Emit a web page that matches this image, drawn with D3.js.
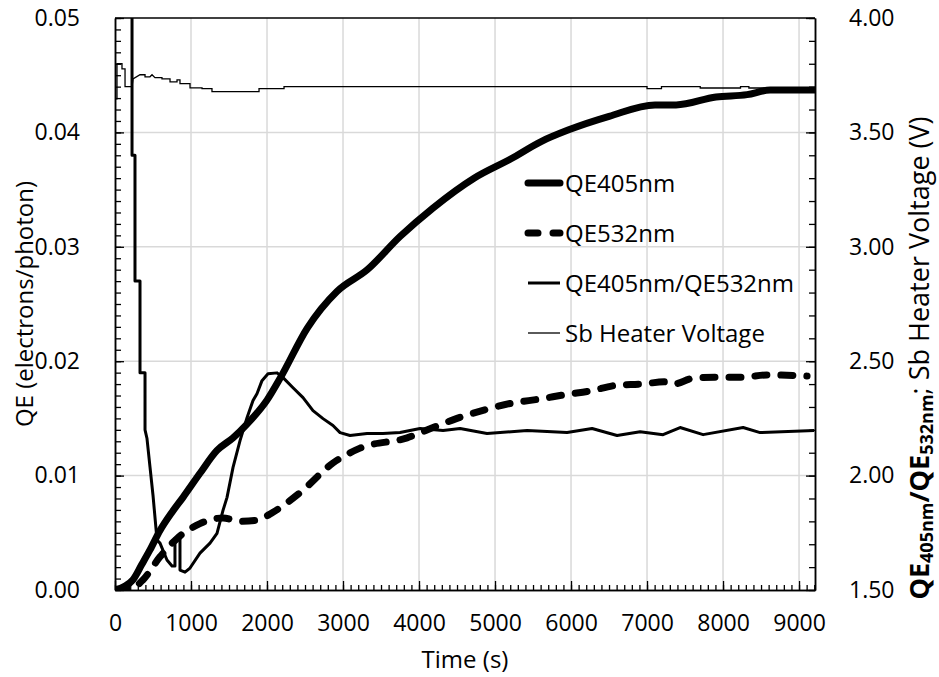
<!DOCTYPE html>
<html>
<head>
<meta charset="utf-8">
<script src="https://cdn.jsdelivr.net/npm/d3@7"></script>
<style>
  body { margin: 0; background: #fff; }
  svg text { font-family: "Open Sans", sans-serif; fill: #000; }
</style>
</head>
<body>
<div id="chart"></div>
<script>
// time (s) vs QE (electrons/photon), left axis
const qe405 = [
  [0, 0], [120, 0.0003], [237, 0.0009], [350, 0.0022], [460, 0.0035], [592, 0.0052],
  [750, 0.0068], [895, 0.0081], [1118, 0.0102], [1342, 0.0122], [1553, 0.0133],
  [1737, 0.0145], [2000, 0.0166], [2180, 0.0186], [2530, 0.0229], [2920, 0.0261],
  [3320, 0.0280], [3750, 0.0309], [4185, 0.0334], [4724, 0.0360], [5211, 0.0377],
  [5606, 0.0392], [5961, 0.0402], [6501, 0.0414], [7105, 0.0424], [7382, 0.0424],
  [7908, 0.0431], [8316, 0.0433], [8620, 0.0437], [9200, 0.0437]
];
const qe532 = [
  [0, 0], [237, 0.0002], [370, 0.0009], [592, 0.0029], [816, 0.0045], [1118, 0.0058],
  [1421, 0.0063], [1645, 0.0060], [1868, 0.0061], [2079, 0.0068], [2434, 0.0085],
  [2868, 0.0111], [3224, 0.0124], [3843, 0.0133], [4185, 0.0142], [4500, 0.0150],
  [4842, 0.0157], [5198, 0.0163], [5593, 0.0167], [5948, 0.0171], [6251, 0.0174],
  [6606, 0.0179], [6909, 0.0180], [7264, 0.0182], [7343, 0.0180], [7606, 0.0185],
  [7922, 0.0186], [8264, 0.0186], [8580, 0.0188], [9106, 0.0187]
];
// right axis: ratio and heater voltage
const ratio = [
  [224, 5.0], [224, 3.40], [263, 3.40], [263, 2.85], [329, 2.85], [329, 2.45],
  [395, 2.45], [395, 2.20], [421, 2.162], [461, 2.036], [500, 1.914], [553, 1.718],
  [592, 1.705], [684, 1.631], [750, 1.605], [789, 1.605], [789, 1.726], [855, 1.726],
  [855, 1.587], [921, 1.578], [987, 1.596], [1118, 1.661], [1250, 1.705], [1342, 1.748],
  [1421, 1.848], [1474, 1.905], [1553, 2.036], [1645, 2.153], [1737, 2.253], [1816, 2.328],
  [1868, 2.358], [1934, 2.415], [2013, 2.445], [2132, 2.449], [2211, 2.428], [2342, 2.384],
  [2474, 2.341], [2605, 2.284], [2737, 2.249], [2868, 2.219], [2961, 2.188], [3092, 2.175],
  [3316, 2.184], [3526, 2.184], [3750, 2.188], [4014, 2.206], [4316, 2.197], [4540, 2.206],
  [4895, 2.184], [5422, 2.197], [5948, 2.188], [6277, 2.206], [6606, 2.175], [6909, 2.192],
  [7211, 2.179], [7435, 2.21], [7738, 2.179], [8264, 2.21], [8488, 2.188], [9200, 2.197]
];
const heater = [
  [0, 3.647], [26, 3.647], [26, 3.80], [92, 3.80], [92, 3.778], [132, 3.778], [132, 3.70],
  [224, 3.70], [237, 3.734], [329, 3.752], [395, 3.752], [395, 3.743], [460, 3.743],
  [487, 3.752], [526, 3.739], [618, 3.739], [618, 3.734], [724, 3.734], [724, 3.721],
  [816, 3.721], [816, 3.73], [855, 3.73], [855, 3.713], [987, 3.713], [987, 3.695],
  [1145, 3.695], [1145, 3.691], [1276, 3.691], [1276, 3.678], [1895, 3.678], [1895, 3.691],
  [2224, 3.691], [2224, 3.70], [7000, 3.70], [7000, 3.691], [7190, 3.691], [7190, 3.70],
  [7700, 3.70], [7700, 3.694], [8230, 3.694], [8230, 3.70], [8340, 3.70], [8340, 3.694],
  [8580, 3.694], [8580, 3.686], [9200, 3.686]
];

const xTicks = [0, 1000, 2000, 3000, 4000, 5000, 6000, 7000, 8000, 9000];
const yLeftTicks = [0, 0.01, 0.02, 0.03, 0.04, 0.05];
const yRightTicks = [1.5, 2.0, 2.5, 3.0, 3.5, 4.0];
const legendNames = ['QE405nm', 'QE532nm', 'QE405nm/QE532nm', 'Sb Heater Voltage'];

const W = 939, H = 677;
const plot = { left: 115, right: 815, top: 18, bottom: 590 };

const svg = d3.select('#chart').append('svg')
  .attr('width', W).attr('height', H);

const x = d3.scaleLinear().domain([0, 9210]).range([plot.left, plot.right]);
const yL = d3.scaleLinear().domain([0, 0.05]).range([plot.bottom, plot.top]);
const yR = d3.scaleLinear().domain([1.5, 4.0]).range([plot.bottom, plot.top]);

// gridlines
const grid = svg.append('g').attr('stroke', '#d9d9d9').attr('stroke-width', 1.5);
grid.selectAll('.gx').data(xTicks.slice(1)).join('line')
  .attr('x1', d => x(d)).attr('x2', d => x(d))
  .attr('y1', plot.top).attr('y2', plot.bottom);
grid.selectAll('.gy').data(yLeftTicks.slice(1, -1)).join('line')
  .attr('x1', plot.left).attr('x2', plot.right)
  .attr('y1', d => yL(d)).attr('y2', d => yL(d));

svg.append('clipPath').attr('id', 'clip').append('rect')
  .attr('x', plot.left).attr('y', plot.top)
  .attr('width', plot.right - plot.left).attr('height', plot.bottom - plot.top);

const lines = svg.append('g').attr('clip-path', 'url(#clip)').attr('fill', 'none').attr('stroke', '#000');

const lineL = d3.line().x(d => x(d[0])).y(d => yL(d[1])).curve(d3.curveMonotoneX);
const lineR = d3.line().x(d => x(d[0])).y(d => yR(d[1]));

lines.append('path').attr('d', lineR(heater)).attr('stroke-width', 1.3);
lines.append('path').attr('d', lineR(ratio)).attr('stroke-width', 3).attr('stroke-linejoin', 'round');
lines.append('path').attr('d', lineL(qe532)).attr('stroke-width', 7)
  .attr('stroke-dasharray', '12,14').attr('stroke-linecap', 'round');
lines.append('path').attr('d', lineL(qe405)).attr('stroke-width', 7).attr('stroke-linecap', 'round');

// axes
function styleAxis(g) {
  g.select('.domain').attr('stroke', '#000').attr('stroke-width', 1.5);
  g.selectAll('line').attr('stroke', '#000').attr('stroke-width', 1.3);
  g.selectAll('text').attr('font-size', '23px').attr('font-family', '"Open Sans", sans-serif');
}

const minorX = d3.range(0, 9201, 100);
svg.append('g').attr('transform', `translate(0,${plot.bottom})`)
  .call(d3.axisBottom(x).tickValues(minorX).tickSize(-5).tickSizeOuter(0).tickFormat(''))
  .call(styleAxis);
svg.append('g').attr('transform', `translate(0,${plot.bottom})`)
  .call(d3.axisBottom(x).tickValues(xTicks).tickSize(-9).tickSizeOuter(0).tickPadding(25)
    .tickFormat(d3.format('d')))
  .call(styleAxis);

const minorL = d3.range(0, 0.0501, 0.001);
svg.append('g').attr('transform', `translate(${plot.left},0)`)
  .call(d3.axisLeft(yL).tickValues(minorL).tickSize(-6).tickSizeOuter(0).tickFormat(''))
  .call(styleAxis);
svg.append('g').attr('transform', `translate(${plot.left},0)`)
  .call(d3.axisLeft(yL).tickValues(yLeftTicks).tickSize(-9).tickSizeOuter(0).tickPadding(35)
    .tickFormat(d3.format('.2f')))
  .call(styleAxis);

const minorR = d3.range(1.5, 4.001, 0.1);
svg.append('g').attr('transform', `translate(${plot.right},0)`)
  .call(d3.axisRight(yR).tickValues(minorR).tickSize(-6).tickSizeOuter(0).tickFormat(''))
  .call(styleAxis);
svg.append('g').attr('transform', `translate(${plot.right},0)`)
  .call(d3.axisRight(yR).tickValues(yRightTicks).tickSize(-9).tickSizeOuter(0).tickPadding(34)
    .tickFormat(d3.format('.2f')))
  .call(styleAxis);

// top frame
svg.append('line').attr('x1', plot.left).attr('x2', plot.right)
  .attr('y1', plot.top).attr('y2', plot.top).attr('stroke', '#000').attr('stroke-width', 1.5);

// axis titles
svg.append('text').attr('x', (plot.left + plot.right) / 2).attr('y', 668)
  .attr('text-anchor', 'middle').attr('font-size', '24px').text('Time (s)');

svg.append('text').attr('transform', `translate(33,${(plot.top + plot.bottom) / 2}) rotate(-90)`)
  .attr('text-anchor', 'middle').attr('font-size', '24px').text('QE (electrons/photon)');

const rt = svg.append('text')
  .attr('transform', 'translate(929,358) rotate(-90)')
  .attr('text-anchor', 'middle').attr('font-size', '27px');
rt.append('tspan').attr('font-weight', 'bold').text('QE');
rt.append('tspan').attr('font-weight', 'bold').attr('font-size', '18px').attr('dy', 4).text('405nm');
rt.append('tspan').attr('font-weight', 'bold').attr('dy', -4).text('/QE');
rt.append('tspan').attr('font-weight', 'bold').attr('font-size', '18px').attr('dy', 4).text('532nm');
rt.append('tspan').attr('dy', -4).text('; Sb Heater Voltage (V)');

// legend
const legendStyles = [
  { w: 7, dash: null },
  { w: 7, dash: '10,15' },
  { w: 3, dash: null },
  { w: 1.3, dash: null }
];
const legend = svg.append('g');
const rows = legend.selectAll('g').data(legendNames).join('g')
  .attr('transform', (d, i) => `translate(528,${183 + i * 50})`);
rows.append('line').attr('x1', 0).attr('x2', 32).attr('y1', 0).attr('y2', 0)
  .attr('stroke', '#000')
  .attr('stroke-width', (d, i) => legendStyles[i].w)
  .attr('stroke-linecap', (d, i) => i < 2 ? 'round' : 'butt')
  .attr('stroke-dasharray', (d, i) => legendStyles[i].dash);
rows.append('text').attr('x', 37).attr('y', 9).attr('font-size', '24px').text(d => d);
</script>
</body>
</html>
